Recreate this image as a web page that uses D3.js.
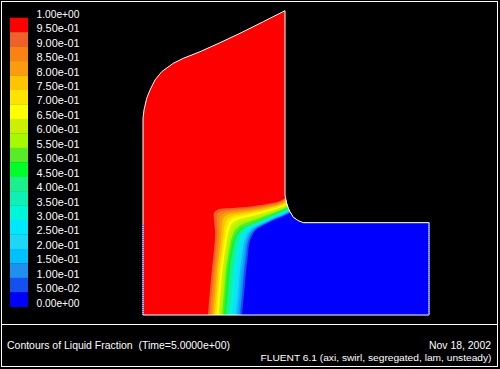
<!DOCTYPE html>
<html><head><meta charset="utf-8">
<script src="https://cdn.jsdelivr.net/npm/d3@7"></script>
<style>html,body{margin:0;padding:0;background:#000;}svg{display:block;}text{white-space:pre;}</style>
</head><body>
<script>
// ---- Legend (levels of liquid fraction) ----
const tickValues = [1.00,0.95,0.90,0.85,0.80,0.75,0.70,0.65,0.60,0.55,0.50,0.45,0.40,0.35,0.30,0.25,0.20,0.15,0.10,0.05,0.00];
const tickLabels = ["1.00e+00","9.50e-01","9.00e-01","8.50e-01","8.00e-01","7.50e-01","7.00e-01","6.50e-01","6.00e-01","5.50e-01","5.00e-01","4.50e-01","4.00e-01","3.50e-01","3.00e-01","2.50e-01","2.00e-01","1.50e-01","1.00e-01","5.00e-02","0.00e+00"];
const bandColors = ["#ff0000","#f0602a","#fa8214","#fa9c10","#ffc400","#ffe400","#ffff00","#cdf000","#a6fa00","#58ec28",
                    "#00ff28","#1cf08a","#10f0b4","#00f6d8","#00e8ff","#1cd8f6","#00c0ff","#2090f0","#1450f0","#0000ff"];

// ---- Geometry (data units) ----
const domainOutline = [[0,0],[0,19.67],[0.1,20.5],[0.37,21.67],[0.7,22.5],[1.2,23.5],[1.87,24.33],[3.03,25.17],[4.03,25.67],
  [5.7,26.33],[7.7,27.23],[9.7,28.17],[12.03,29.33],[14.2,30.43],[14.2,12.0],[14.3,11.5],[14.37,11.17],[14.53,10.67],
  [14.7,10.33],[15.03,9.77],[15.53,9.43],[16.03,9.23],[16.53,9.23],[28.6,9.23],[28.6,0]];
const dottedEdges = [[[0,0],[0,9.0]],[[28.6,9.23],[28.6,0]]];

// ---- Melting front isolines (liquid fraction level, points) ----
const frontLevels = [0.95, 0.50, 0.05];
const frontOuter = [[6.5,-0.5],[6.5,0],[6.7,2.5],[6.9,4.7],[7.1,6.5],[7.2,8.3],[7.1,9.5],[7.1,10.2],[7.5,10.55],[8.9,10.7],[10.7,10.85],[12.4,11.1],[13.7,11.4],[14.3,11.75],[15.2,12.0]];
const frontMid   = [[8.1,-0.5],[8.1,0],[8.3,2.5],[8.5,4.7],[8.8,6.5],[9.1,7.7],[9.5,8.4],[10.0,8.8],[10.7,9.1],[11.5,9.4],[12.4,9.8],[13.3,10.2],[14.0,10.5],[14.6,10.8],[15.5,11.2]];
const frontInner = [[9.9,-0.5],[9.9,0],[10.1,2.0],[10.3,4.3],[10.5,6.0],[10.6,7.0],[10.9,7.9],[11.3,8.5],[11.9,8.9],[12.5,9.2],[13.3,9.6],[14.0,9.85],[14.5,10.1],[14.9,10.3],[15.7,10.6]];

const titleText = "Contours of Liquid Fraction  (Time=5.0000e+00)";
const dateText = "Nov 18, 2002";
const solverText = "FLUENT 6.1 (axi, swirl, segregated, lam, unsteady)";

const W = 500, H = 369;
const svg = d3.select("body").append("svg").attr("width", W).attr("height", H)
  .style("font-family", "'Liberation Sans', Arial, sans-serif");
svg.append("rect").attr("width", W).attr("height", H).attr("fill", "#000");

const x = d3.scaleLinear().domain([0, 28.6]).range([143, 429]);
const y = d3.scaleLinear().domain([0, 30.4]).range([315, 11]);
const lin = d3.line().x(d => x(d[0])).y(d => y(d[1]));
const smooth = d3.line().x(d => x(d[0])).y(d => y(d[1])).curve(d3.curveCatmullRom);

svg.append("clipPath").attr("id", "dom").append("path").attr("d", lin(domainOutline) + "Z");

const field = svg.append("g").attr("clip-path", "url(#dom)");
field.append("path").attr("d", lin(domainOutline) + "Z").attr("fill", bandColors[0]);

function levelCurve(L) {
  let a, b, t;
  if (L >= frontLevels[1]) { a = frontOuter; b = frontMid; t = (frontLevels[0] - L) / (frontLevels[0] - frontLevels[1]); }
  else { a = frontMid; b = frontInner; t = (frontLevels[1] - L) / (frontLevels[1] - frontLevels[2]); }
  return a.map((p, i) => [p[0] + (b[i][0] - p[0]) * t, p[1] + (b[i][1] - p[1]) * t]);
}
for (let j = 1; j < tickValues.length - 1; j++) {
  const pts = levelCurve(tickValues[j]);
  const close = [[30, pts[pts.length - 1][1] + 1.5], [30, -1], [pts[0][0], -1]];
  field.append("path")
    .attr("d", smooth(pts) + close.map(p => "L" + x(p[0]) + "," + y(p[1])).join("") + "Z")
    .attr("fill", bandColors[j]);
}

// boundary
svg.append("path").attr("d", lin(domainOutline) + "Z").attr("fill", "none")
  .attr("stroke", "#fff").attr("stroke-width", 1);
dottedEdges.forEach(seg => {
  svg.append("path").attr("d", lin(seg)).attr("stroke", "#2040ff").attr("stroke-width", 1);
  svg.append("path").attr("d", lin(seg)).attr("stroke", "#fff").attr("stroke-width", 1).attr("stroke-dasharray", "1,1");
});

// legend
const yl = d3.scaleLinear().domain([1, 0]).range([17.7, 306.7]);
const leg = svg.append("g");
bandColors.forEach((c, k) => {
  leg.append("rect").attr("x", 10).attr("width", 18)
    .attr("y", yl(tickValues[k])).attr("height", yl(tickValues[k + 1]) - yl(tickValues[k]) + 0.3)
    .attr("fill", c);
});
tickValues.forEach((v, i) => {
  leg.append("text").attr("x", 36.5).attr("y", yl(v)).attr("fill", "#fff")
    .attr("font-size", 10.2).attr("textLength", 43).attr("lengthAdjust", "spacingAndGlyphs").text(tickLabels[i]);
});

// frame & footer
svg.append("rect").attr("x", 1.5).attr("y", 1.5).attr("width", 496).attr("height", 365)
  .attr("fill", "none").attr("stroke", "#fff");
svg.append("line").attr("x1", 1.5).attr("x2", 497.5).attr("y1", 324.5).attr("y2", 324.5).attr("stroke", "#fff");
svg.append("text").attr("x", 7).attr("y", 349).attr("fill", "#fff").attr("font-size", 10.5)
  .attr("textLength", 223).attr("lengthAdjust", "spacingAndGlyphs").text(titleText);
svg.append("text").attr("x", 429).attr("y", 348.5).attr("fill", "#fff").attr("font-size", 10.5)
  .attr("textLength", 62).attr("lengthAdjust", "spacingAndGlyphs").text(dateText);
svg.append("text").attr("x", 260.5).attr("y", 360.5).attr("fill", "#fff").attr("font-size", 9.6)
  .attr("textLength", 231).attr("lengthAdjust", "spacingAndGlyphs").text(solverText);
</script>
</body></html>
